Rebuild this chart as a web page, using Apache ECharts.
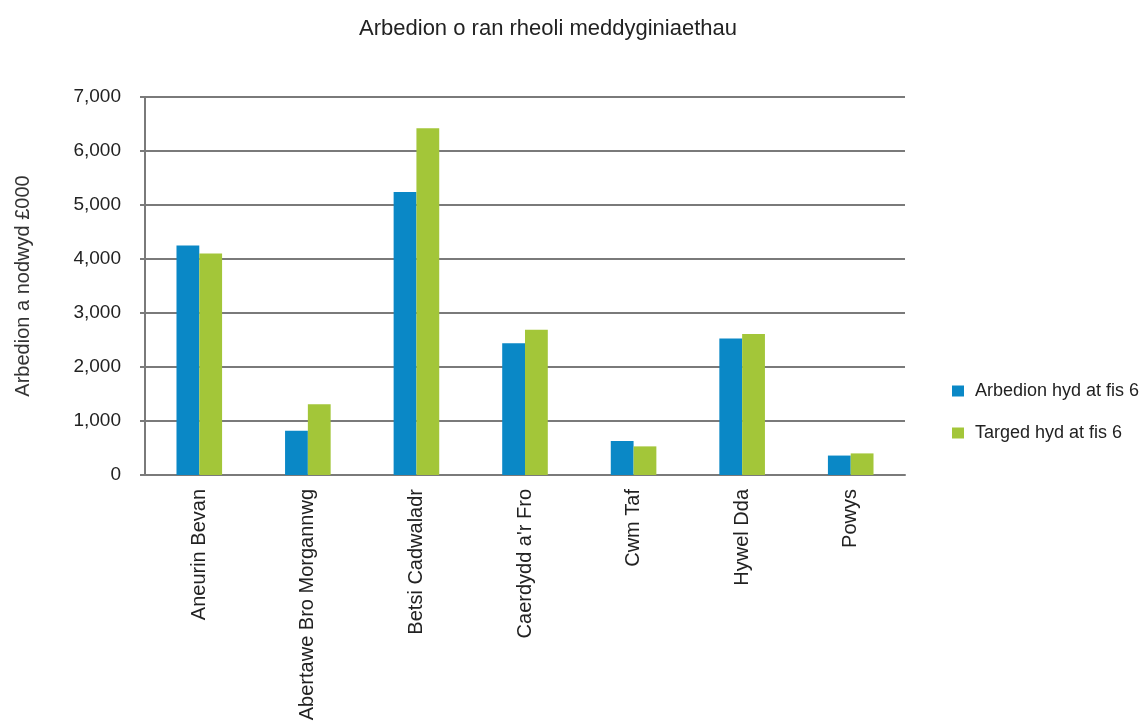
<!DOCTYPE html>
<html>
<head>
<meta charset="utf-8">
<script src="https://cdn.jsdelivr.net/npm/echarts@6/dist/echarts.min.js"></script>
<style>
html,body{margin:0;padding:0;background:#fff;}
#chart{width:1147px;height:725px;}
</style>
</head>
<body>
<div id="chart"></div>
<script>
var categories = ["Aneurin Bevan", "Abertawe Bro Morgannwg", "Betsi Cadwaladr", "Caerdydd a'r Fro", "Cwm Taf", "Hywel Dda", "Powys"];
var savingsValues = [4250, 820, 5240, 2440, 630, 2530, 360];
var targetValues = [4100, 1310, 6420, 2690, 530, 2610, 400];
var seriesNames = ["Arbedion hyd at fis 6", "Targed hyd at fis 6"];
var titleText = "Arbedion o ran rheoli meddyginiaethau";
var yAxisName = "Arbedion a nodwyd £000";

var chart = echarts.init(document.getElementById('chart'));
var font = 'Liberation Sans, Arial, sans-serif';
chart.setOption({
  backgroundColor: '#fff',
  animation: false,
  title: {
    text: titleText,
    left: 543, top: 13, textAlign: 'center',
    textStyle: {fontFamily: font, fontSize: 22, fontWeight: 'normal', color: '#222'}
  },
  legend: {
    orient: 'vertical',
    left: 947, top: 377,
    itemWidth: 12, itemHeight: 11, itemGap: 24,
    icon: 'rect',
    textStyle: {fontFamily: font, fontSize: 18, color: '#222', padding: [0,0,0,6]},
    data: seriesNames
  },
  grid: {left: 145, right: 242, top: 97, bottom: 250},
  xAxis: {
    type: 'category',
    data: categories,
    axisLine: {lineStyle: {color: '#7a7a7a', width: 2}},
    axisTick: {show: false},
    axisLabel: {rotate: 90, fontFamily: font, fontSize: 20, color: '#222', margin: 14, interval: 0}
  },
  yAxis: {
    type: 'value',
    min: 0, max: 7000, interval: 1000,
    name: yAxisName,
    nameLocation: 'middle',
    nameRotate: 90,
    nameGap: 112,
    nameTextStyle: {fontFamily: font, fontSize: 20, color: '#333'},
    axisLine: {show: true, lineStyle: {color: '#7a7a7a', width: 2}},
    axisTick: {show: true, length: 5, lineStyle: {color: '#7a7a7a', width: 2}},
    splitLine: {lineStyle: {color: '#7a7a7a', width: 2}},
    axisLabel: {
      fontFamily: font, fontSize: 19, color: '#222', margin: 24,
      formatter: function (v) { return v.toLocaleString('en-GB'); }
    }
  },
  series: [
    {name: seriesNames[0], type: 'bar', data: savingsValues, barGap: '0%', barCategoryGap: '58%', itemStyle: {color: '#0a88c6'}},
    {name: seriesNames[1], type: 'bar', data: targetValues, itemStyle: {color: '#a3c639'}}
  ]
});
</script>
</body>
</html>
